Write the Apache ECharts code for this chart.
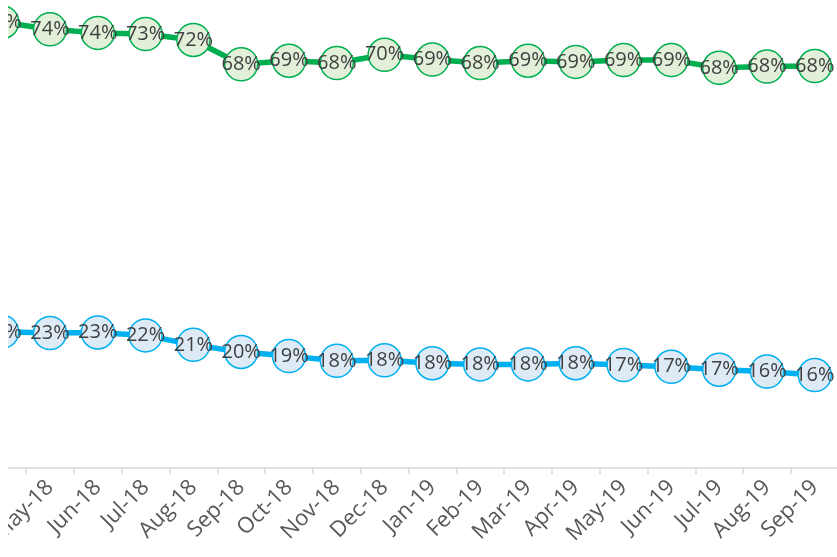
<!DOCTYPE html>
<html>
<head>
<meta charset="utf-8">
<script src="https://cdn.jsdelivr.net/npm/echarts@6/dist/echarts.min.js"></script>
<style>
html,body{margin:0;padding:0;background:#fff;}
#clip{position:absolute;left:8px;top:0;width:829px;height:557px;overflow:hidden;}
#chart{position:absolute;left:-8px;top:0;width:837px;height:557px;}
</style>
</head>
<body>
<div id="clip"><div id="chart"></div></div>
<script>
var categories = ['Apr-18','May-18','Jun-18','Jul-18','Aug-18','Sep-18','Oct-18','Nov-18','Dec-18','Jan-19','Feb-19','Mar-19','Apr-19','May-19','Jun-19','Jul-19','Aug-19','Sep-19'];
var greenValues = [75.3, 74.1, 73.5, 73.3, 72.3, 68.2, 68.8, 68.4, 69.8, 69.0, 68.4, 68.8, 68.6, 68.9, 68.9, 67.6, 67.8, 67.9];
var blueValues = [23.0, 22.8, 22.9, 22.4, 20.8, 19.6, 18.9, 18.1, 18.2, 17.7, 17.5, 17.5, 17.7, 17.4, 17.1, 16.6, 16.3, 15.7];

var chart = echarts.init(document.getElementById('chart'));
function pct(p){ return Math.round(p.value) + '%'; }
var labelStyle = {show:true, position:'inside', formatter:pct, fontFamily:'Open Sans', fontSize:20, color:'#404040'};
chart.setOption({
  animation:false,
  grid:{left:-21.7, width:860.4, top:-5.6, height:473.6, containLabel:false, outerBoundsMode:'none'},
  xAxis:{
    type:'category', data:categories, boundaryGap:true,
    axisLine:{lineStyle:{color:'#d9d9d9', width:1.5}},
    axisTick:{show:true, length:6, lineStyle:{color:'#d9d9d9', width:1.5}},
    axisLabel:{interval:0, rotate:45, fontFamily:'Open Sans', fontSize:22, color:'#595959', margin:16}
  },
  yAxis:{type:'value', min:0, max:80, show:false, splitLine:{show:false}},
  series:[
    {type:'line', data:greenValues, symbol:'circle', symbolSize:33,
     lineStyle:{color:'#00b050', width:5.5},
     itemStyle:{color:'#e2f0d9', borderColor:'#00b050', borderWidth:1.5},
     label:labelStyle},
    {type:'line', data:blueValues, symbol:'circle', symbolSize:33,
     lineStyle:{color:'#00b0f0', width:5.5},
     itemStyle:{color:'#deebf7', borderColor:'#00b0f0', borderWidth:1.5},
     label:labelStyle}
  ]
});
</script>
</body>
</html>
